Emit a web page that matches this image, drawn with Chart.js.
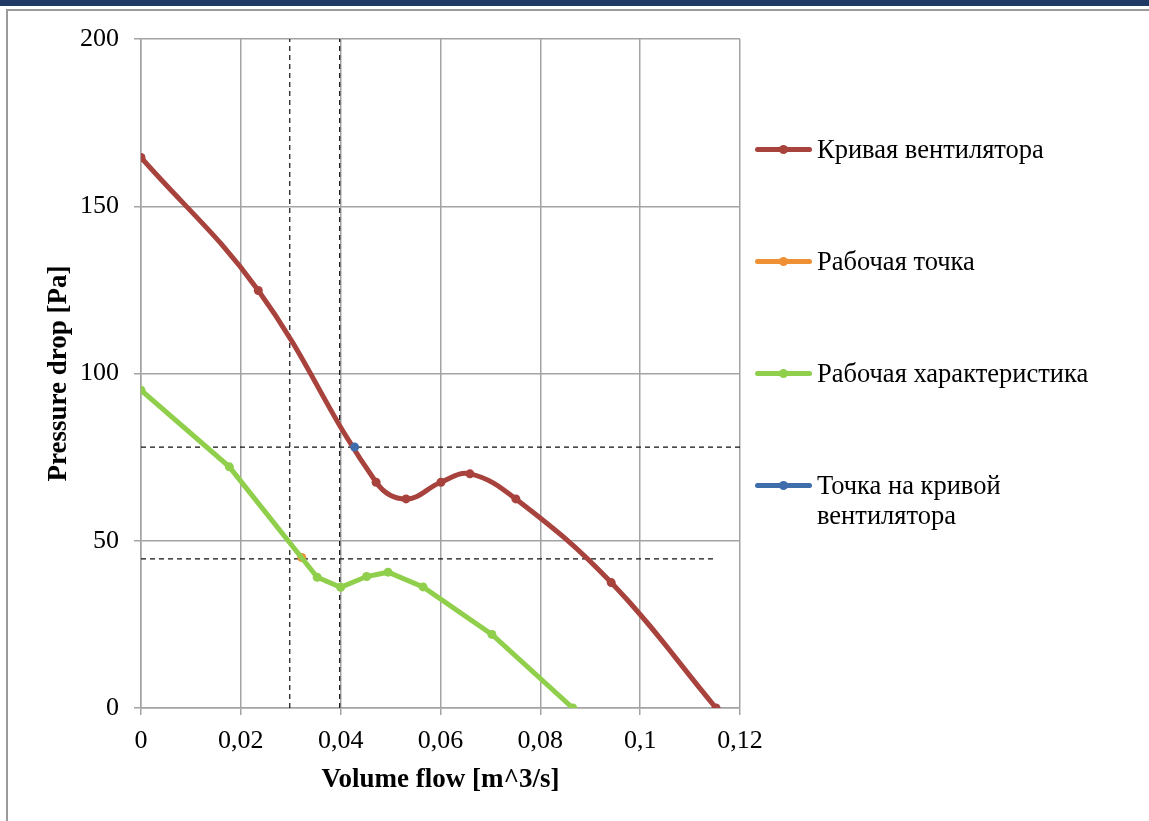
<!DOCTYPE html>
<html>
<head>
<meta charset="utf-8">
<script src="https://cdn.jsdelivr.net/npm/chart.js@4.4.1/dist/chart.umd.min.js"></script>
<style>
  html, body { margin: 0; padding: 0; background: #fff; }
  body { width: 1149px; height: 821px; position: relative; overflow: hidden; font-family: 'Liberation Serif', 'Times New Roman', serif; }
  #band { position: absolute; left: 0; top: 0; width: 1149px; height: 6px; background: #1f3864; }
  #frame { position: absolute; left: 6px; top: 9px; width: 1200px; height: 900px; border-left: 2px solid #9a9a9a; border-top: 2px solid #9a9a9a; }
  #wrap { position: absolute; left: 0; top: 0; width: 1149px; height: 821px; }
  #legend { position: absolute; left: 755px; top: 0; }
  .item { position: absolute; left: 0; width: 360px; font-size: 26.5px; line-height: 30px; color: #000; }
  .mark { position: absolute; left: 0; width: 57px; height: 5px; border-radius: 3px; }
  .mark::after { content: ''; position: absolute; left: 24px; top: -2px; width: 9px; height: 9px; border-radius: 50%; background: inherit; }
  .txt { position: absolute; left: 62px; top: 0; }
</style>
</head>
<body>
<div id="band"></div>
<div id="frame"></div>
<div id="wrap"><canvas id="chart" width="1149" height="821"></canvas></div>
<div id="legend"></div>
<script>
// fan curve
const fanFlow = [0, 0.0235, 0.0471, 0.0531, 0.0601, 0.0659, 0.0751, 0.0942, 0.1152];
const fanPressure = [164.6, 124.8, 67.5, 62.5, 67.5, 70, 62.5, 37.5, 0];

// system characteristic
const sysFlow = [0, 0.0177, 0.0353, 0.0400, 0.0452, 0.0495, 0.0565, 0.0703, 0.0865];
const sysPressure = [95, 72.1, 39.1, 36.1, 39.3, 40.6, 36.2, 22, 0];

// operating point and point on fan curve
const workFlow = [0.0322];
const workPressure = [45.0];
const fanPointFlow = [0.0428];
const fanPointPressure = [78];

// dashed guide lines
const guideV = [0.0298, 0.0398];
const guideH = [78, 44.6];
const guideHEnd = [0.12, 0.1146];

const xTickValues = [0, 0.02, 0.04, 0.06, 0.08, 0.1, 0.12];
const xTickLabels = ['0', '0,02', '0,04', '0,06', '0,08', '0,1', '0,12'];

const seriesNames = ['Кривая вентилятора', 'Рабочая точка', 'Рабочая характеристика', 'Точка на кривой вентилятора'];
const seriesColors = ['#a8423d', '#ee9033', '#8fcf4c', '#3f6cab'];

function pts(xs, ys) {
  return xs.map((x, i) => ({ x, y: ys[i] }));
}

const datasets = [
  {
    label: seriesNames[3], data: pts(fanPointFlow, fanPointPressure), order: 0,
    borderColor: seriesColors[3], backgroundColor: seriesColors[3], pointRadius: 4.5, pointBorderWidth: 0
  },
  {
    label: seriesNames[0], data: pts(fanFlow, fanPressure), order: 1, showLine: true,
    borderColor: seriesColors[0], backgroundColor: seriesColors[0], borderWidth: 5, tension: 0.4,
    pointRadius: 4.5, pointBorderWidth: 0
  },
  {
    label: seriesNames[2], data: pts(sysFlow, sysPressure), order: 2, showLine: true,
    borderColor: seriesColors[2], backgroundColor: seriesColors[2], borderWidth: 5, tension: 0,
    pointRadius: 4.5, pointBorderWidth: 0
  },
  {
    label: seriesNames[1], data: pts(workFlow, workPressure), order: 3,
    borderColor: seriesColors[1], backgroundColor: seriesColors[1], pointRadius: 4.5, pointBorderWidth: 0
  }
];

guideV.forEach((x) => {
  datasets.push({
    data: [{ x, y: 0 }, { x, y: 200 }], order: 5, showLine: true,
    borderColor: '#111', borderWidth: 1.2, borderDash: [5, 4], pointRadius: 0
  });
});
guideH.forEach((y, i) => {
  datasets.push({
    data: [{ x: 0, y }, { x: guideHEnd[i], y }], order: 5, showLine: true,
    borderColor: '#111', borderWidth: 1.2, borderDash: [5, 4], pointRadius: 0
  });
});

// html legend
const legend = document.getElementById('legend');
const legendY = [149, 261, 373, 485];
legendY.forEach((y, i) => {
  const item = document.createElement('div');
  item.className = 'item';
  item.style.top = (y - 15) + 'px';
  const name = i === 3 ? 'Точка на кривой<br>вентилятора' : seriesNames[i];
  item.innerHTML = `<span class="mark" style="top:13px;background:${seriesColors[i]}"></span><span class="txt">${name}</span>`;
  legend.appendChild(item);
});

const font = { family: "'Liberation Serif', 'Times New Roman', serif", size: 26 };
const gridColor = '#a3a3a3';

new Chart(document.getElementById('chart'), {
  type: 'scatter',
  data: { datasets },
  options: {
    responsive: false,
    animation: false,
    layout: { padding: { left: 43, top: 39, right: 409, bottom: 18 } },
    plugins: { legend: { display: false }, tooltip: { enabled: false } },
    scales: {
      x: {
        type: 'linear', min: 0, max: 0.12,
        afterBuildTicks: (scale) => { scale.ticks = xTickValues.map((v) => ({ value: v })); },
        afterFit: (scale) => { scale.height = 821 - 708 - 18; },
        ticks: {
          color: '#000', font, padding: 11, maxRotation: 0,
          callback: (v, i) => xTickLabels[i]
        },
        grid: { color: gridColor, lineWidth: 1.5, tickLength: 7 },
        border: { color: gridColor, width: 1.5 },
        title: {
          display: true, text: 'Volume flow [m^3/s]', color: '#000',
          font: { ...font, size: 27, weight: 'bold' }, padding: { top: 4, bottom: 7 }
        }
      },
      y: {
        min: 0, max: 200,
        afterFit: (scale) => { scale.width = 141 - 43; },
        ticks: { stepSize: 50, color: '#000', font, padding: 15 },
        grid: { color: gridColor, lineWidth: 1.5, tickLength: 7 },
        border: { color: gridColor, width: 1.5 },
        title: {
          display: true, text: 'Pressure drop [Pa]', color: '#000',
          font: { ...font, size: 27, weight: 'bold' }, padding: { top: 0, bottom: 0 }
        }
      }
    }
  }
});
</script>
</body>
</html>
